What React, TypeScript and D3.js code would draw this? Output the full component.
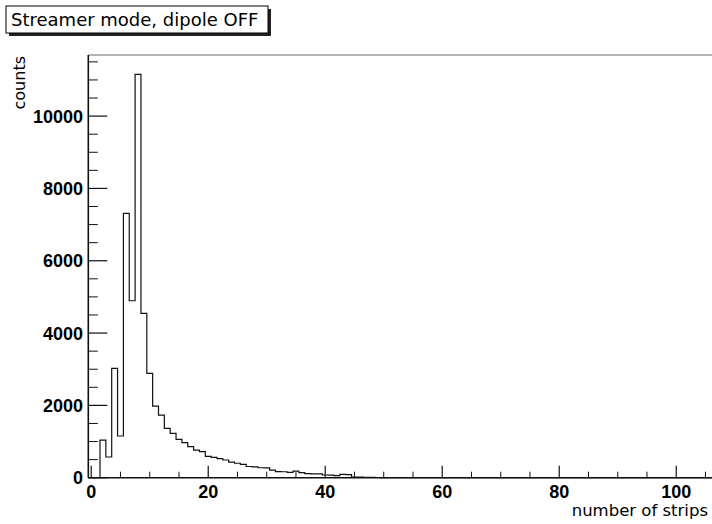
import React from "react";
import * as d3 from "d3";

const binCenters: number[] = Array.from({ length: 111 }, (_, i) => i);
const counts: number[] = [
  0, 0, 1040, 572, 3025, 1153, 7310, 4894, 11153, 4545,
  2886, 1982, 1730, 1366, 1228, 1062, 968, 857, 760, 720,
  590, 560, 525, 490, 430, 400, 370, 310, 300, 275,
  270, 212, 170, 165, 150, 180, 138, 110, 108, 105,
  75, 70, 55, 90, 85, 20, 15, 10, 8, 6,
  4,
];
const xTickMajor: number[] = [0, 20, 40, 60, 80, 100];
const yTickMajor: number[] = [0, 2000, 4000, 6000, 8000, 10000];
const titleText = "Streamer mode, dipole OFF";
const xTitle = "number of strips";
const yTitle = "counts";

const W = 712;
const H = 524;
const left = 88.3;
const top = 55;
const bottom = 477.7;
const xMin = -0.5;
const xMax = 110.5;
const pxPerUnit = 5.85;

export default function App() {
  const x = d3.scaleLinear().domain([xMin, xMax]).range([left, left + (xMax - xMin) * pxPerUnit]);
  const y = d3.scaleLinear().domain([0, 11690]).range([bottom, top]);

  const pts: [number, number][] = [];
  pts.push([x(xMin), y(0)]);
  binCenters.forEach((c, i) => {
    const v = counts[i] ?? 0;
    pts.push([x(c - 0.5), y(v)]);
    pts.push([x(c + 0.5), y(v)]);
  });
  pts.push([x(xMax), y(0)]);
  const line = d3.line<[number, number]>().x((d) => d[0]).y((d) => d[1]);
  const path = line(pts) || "";

  const xMinor = d3.range(0, 111, 5).filter((v) => v % 20 !== 0);
  const yMinor = d3.range(0, 11690, 500).filter((v) => v % 2000 !== 0);
  const right = x(xMax);

  return (
    <svg width={W} height={H} style={{ position: "absolute", left: 0, top: 0, background: "#fff" }}>
      <rect x={0} y={0} width={W} height={H} fill="#ffffff" />
      {/* frame */}
      <line x1={left} x2={right} y1={top} y2={top} stroke="#666" strokeWidth={1} />
      <line x1={right} x2={right} y1={top} y2={bottom} stroke="#666" strokeWidth={1} />
      {/* histogram */}
      <path d={path} fill="none" stroke="#111" strokeWidth={1.2} />
      {/* axes */}
      <line x1={left} x2={right} y1={bottom} y2={bottom} stroke="#111" strokeWidth={1.6} />
      <line x1={left} x2={left} y1={top} y2={bottom} stroke="#111" strokeWidth={1.6} />
      {xTickMajor.map((t) => (
        <g key={"xt" + t}>
          <line x1={x(t)} x2={x(t)} y1={bottom} y2={bottom - 12} stroke="#111" strokeWidth={1.2} />
          <text x={x(t)} y={497.5} textAnchor="middle" fontFamily="Liberation Sans, Arial, sans-serif" fontWeight="bold" fontSize={18} fill="#000">
            {t}
          </text>
        </g>
      ))}
      {xMinor.map((t) => (
        <line key={"xm" + t} x1={x(t)} x2={x(t)} y1={bottom} y2={bottom - 6} stroke="#111" strokeWidth={1} />
      ))}
      {yTickMajor.map((t) => (
        <g key={"yt" + t}>
          <line x1={left} x2={left + 19} y1={y(t)} y2={y(t)} stroke="#111" strokeWidth={1.2} />
          <text x={83} y={y(t) + 6.5} textAnchor="end" fontFamily="Liberation Sans, Arial, sans-serif" fontWeight="bold" fontSize={18} fill="#000">
            {t}
          </text>
        </g>
      ))}
      {yMinor.map((t) => (
        <line key={"ym" + t} x1={left} x2={left + 9.5} y1={y(t)} y2={y(t)} stroke="#111" strokeWidth={1} />
      ))}
      {/* axis titles */}
      <text x={708} y={516} textAnchor="end" fontFamily="DejaVu Sans, sans-serif" fontSize={16.5} fill="#000">
        {xTitle}
      </text>
      <text transform={`translate(25,56) rotate(-90)`} textAnchor="end" fontFamily="DejaVu Sans, sans-serif" fontSize={16} fill="#000">
        {yTitle}
      </text>
      {/* title box */}
      <rect x={9} y={9} width={262} height={27} fill="#222" />
      <rect x={6} y={6} width={262} height={27} fill="#fff" stroke="#000" strokeWidth={1} />
      <text x={11} y={26} fontFamily="DejaVu Sans, sans-serif" fontSize={18} fill="#000">
        {titleText}
      </text>
    </svg>
  );
}
